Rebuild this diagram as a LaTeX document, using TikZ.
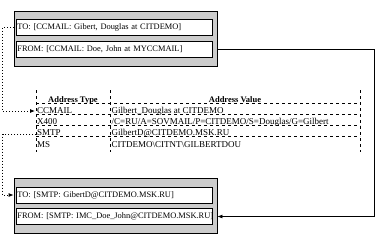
\documentclass[tikz,border=0pt]{standalone}
\usepackage{fontspec}
\setmainfont{Liberation Serif}
\usetikzlibrary{arrows.meta,positioning}

\begin{document}
\begin{tikzpicture}[x=1pt,y=-1pt,
    shell/.style={draw,line width=0.8pt,fill=black!20,minimum width=203pt,minimum height=55pt,inner sep=0pt},
    field/.style={draw,line width=0.8pt,fill=white,anchor=west,minimum height=16pt,text width=194pt,inner xsep=1pt,inner ysep=0pt,align=left,font=\fontsize{8.4}{10}\selectfont},
    cell/.style={anchor=base west,inner sep=0pt,font=\fontsize{9}{10}\selectfont},
    head/.style={anchor=base,inner sep=0pt,font=\fontsize{8.5}{10}\selectfont\bfseries},
    tabline/.style={dash pattern=on 3pt off 3pt,line width=0.6pt},
    link/.style={dash pattern=on 1pt off 2pt,line width=0.8pt,-{Latex[length=5pt,width=4pt]}},
    ret/.style={line width=0.8pt,-{Latex[length=5pt,width=4pt]}}]
    \useasboundingbox (0,0) rectangle (391,244);

    % original message
    \node[shell] (topbox) at (115.5,38.5) {};
    \node[field] (topto) at (16,27) {TO: [CCMAIL: Gibert, Douglas at CITDEMO]};
    \node[field] (topfrom) at (16,49) {FROM: [CCMAIL: Doe, John at MYCCMAIL]};

    % address table
    \foreach \y in {103,114,125,136}
        \draw[tabline] (36,\y) -- (360,\y);
    \foreach \x in {36,110,360}
        \draw[tabline] (\x,90) -- (\x,152);
    \node[head] (htype) at (73,102) {Address Type};
    \node[head] (hval) at (235,102) {Address Value};
    \node[cell] (tccmail) at (37,113.5) {CCMAIL};
    \node[cell] (vccmail) at (111.5,113.5) {Gilbert\_Douglas at CITDEMO};
    \node[cell] (tx) at (37,124.5) {X400};
    \node[cell] (vx) at (111.5,124.5) {/C=RU/A=SOVMAIL/P=CITDEMO/S=Douglas/G=Gilbert};
    \node[cell] (tsmtp) at (37,135.5) {SMTP};
    \node[cell] (vsmtp) at (111.5,135.5) {GilbertD@CITDEMO.MSK.RU};
    \node[cell] (tms) at (37,147) {MS};
    \node[cell] (vms) at (111.5,147) {CITDEMO\textbackslash CITNT\textbackslash GILBERTDOU};

    % converted message
    \node[shell] (botbox) at (115.5,206) {};
    \node[field] (botto) at (16,195) {TO: [SMTP: GibertD@CITDEMO.MSK.RU]};
    \node[field] (botfrom) at (16,216.5) {FROM:~[SMTP:~IMC\_Doe\_John@CITDEMO.MSK.RU]};

    \coordinate (tabin) at (35,111);
    \coordinate (tabout) at (36,134);
    \coordinate (lane) at (2.5,0);
    \coordinate (rail) at (374,0);

    \draw[link] (topbox.west |- topto.west) -- (lane |- topto.west) -- (lane |- tabin) -- (tabin);
    \draw[link] (tabout) -- (lane |- tabout) -- (lane |- botto.west) -- (botbox.west |- botto.west);
    \draw[ret] (topbox.east |- topfrom.east) -- (rail |- topfrom.east) -- (rail |- botfrom.east) -- (botbox.east |- botfrom.east);
\end{tikzpicture}
\end{document}
